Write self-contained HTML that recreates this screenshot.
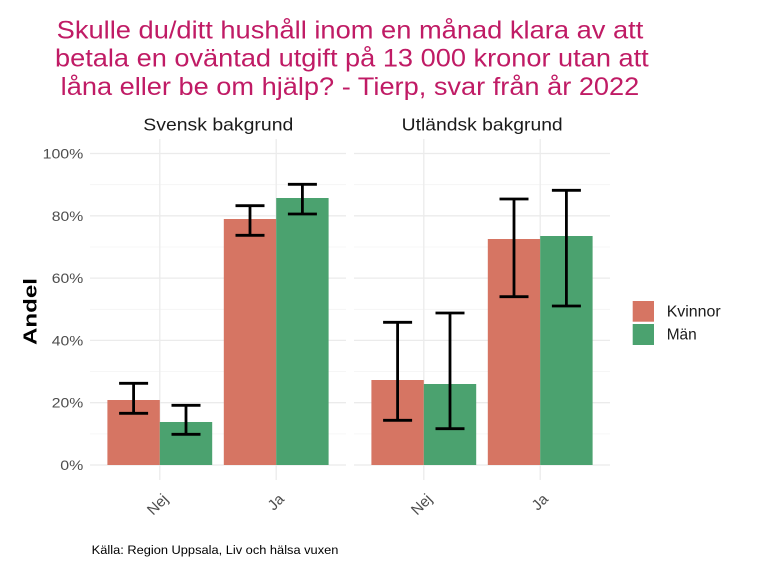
<!DOCTYPE html>
<html>
<head>
<meta charset="utf-8">
<style>
html,body{margin:0;padding:0;background:#fff;}
svg{display:block;}
text{font-family:"Liberation Sans",Arial,sans-serif;}
</style>
</head>
<body>
<svg width="768" height="576" viewBox="0 0 768 576" xmlns="http://www.w3.org/2000/svg">
<rect width="768" height="576" fill="#fff"/>

<!-- Title -->
<g fill="#C01B65" font-size="25">
<text x="56.7" y="38.3" textLength="586.6" lengthAdjust="spacingAndGlyphs">Skulle du/ditt hushåll inom en månad klara av att</text>
<text x="55" y="66.7" textLength="593.7" lengthAdjust="spacingAndGlyphs">betala en oväntad utgift på 13 000 kronor utan att</text>
<text x="60.7" y="95" textLength="578.6" lengthAdjust="spacingAndGlyphs">låna eller be om hjälp? - Tierp, svar från år 2022</text>
</g>

<!-- Strip labels -->
<g fill="#1A1A1A" font-size="17.3">
<text x="143.3" y="130.7" textLength="150" lengthAdjust="spacingAndGlyphs">Svensk bakgrund</text>
<text x="401.7" y="130.7" textLength="161" lengthAdjust="spacingAndGlyphs">Utländsk bakgrund</text>
</g>

<!-- Gridlines -->
<g stroke="#F4F4F4" stroke-width="0.8">
<line x1="90" x2="346" y1="433.9" y2="433.9"/>
<line x1="90" x2="346" y1="371.6" y2="371.6"/>
<line x1="90" x2="346" y1="309.3" y2="309.3"/>
<line x1="90" x2="346" y1="247" y2="247"/>
<line x1="90" x2="346" y1="184.7" y2="184.7"/>
<line x1="354" x2="610" y1="433.9" y2="433.9"/>
<line x1="354" x2="610" y1="371.6" y2="371.6"/>
<line x1="354" x2="610" y1="309.3" y2="309.3"/>
<line x1="354" x2="610" y1="247" y2="247"/>
<line x1="354" x2="610" y1="184.7" y2="184.7"/>
</g>
<g stroke="#EBEBEB" stroke-width="1.3">
<line x1="90" x2="346" y1="465" y2="465"/>
<line x1="90" x2="346" y1="402.7" y2="402.7"/>
<line x1="90" x2="346" y1="340.4" y2="340.4"/>
<line x1="90" x2="346" y1="278.1" y2="278.1"/>
<line x1="90" x2="346" y1="215.8" y2="215.8"/>
<line x1="90" x2="346" y1="153.5" y2="153.5"/>
<line x1="159.8" x2="159.8" y1="139" y2="480"/>
<line x1="276.2" x2="276.2" y1="139" y2="480"/>
<line x1="354" x2="610" y1="465" y2="465"/>
<line x1="354" x2="610" y1="402.7" y2="402.7"/>
<line x1="354" x2="610" y1="340.4" y2="340.4"/>
<line x1="354" x2="610" y1="278.1" y2="278.1"/>
<line x1="354" x2="610" y1="215.8" y2="215.8"/>
<line x1="354" x2="610" y1="153.5" y2="153.5"/>
<line x1="423.8" x2="423.8" y1="139" y2="480"/>
<line x1="540.2" x2="540.2" y1="139" y2="480"/>
</g>

<!-- Bars -->
<g fill="#D67563">
<rect x="107.4" y="400" width="52.4" height="65"/>
<rect x="223.8" y="219" width="52.4" height="246"/>
<rect x="371.4" y="380" width="52.4" height="85"/>
<rect x="487.8" y="239" width="52.4" height="226"/>
</g>
<g fill="#4BA26F">
<rect x="159.8" y="422" width="52.4" height="43"/>
<rect x="276.2" y="198" width="52.4" height="267"/>
<rect x="423.8" y="384" width="52.4" height="81"/>
<rect x="540.2" y="236" width="52.4" height="229"/>
</g>

<!-- Error bars -->
<g stroke="#000" stroke-width="2.8" fill="none">
<path d="M119.1 383.3H148.1M133.6 383.3V413.3M119.1 413.3H148.1"/>
<path d="M171.5 405.3H200.5M186 405.3V434.3M171.5 434.3H200.5"/>
<path d="M235.5 205.7H264.5M250 205.7V235.3M235.5 235.3H264.5"/>
<path d="M287.9 184.3H316.9M302.4 184.3V214M287.9 214H316.9"/>
<path d="M383.1 322.3H412.1M397.6 322.3V420.3M383.1 420.3H412.1"/>
<path d="M435.5 313H464.5M450 313V428.7M435.5 428.7H464.5"/>
<path d="M499.5 199H528.5M514 199V296.7M499.5 296.7H528.5"/>
<path d="M551.9 190.3H580.9M566.4 190.3V306M551.9 306H580.9"/>
</g>

<!-- Y tick labels -->
<g fill="#4D4D4D" font-size="13.5">
<text x="60.3" y="470" textLength="23" lengthAdjust="spacingAndGlyphs">0%</text>
<text x="51.8" y="407.7" textLength="31.5" lengthAdjust="spacingAndGlyphs">20%</text>
<text x="51.8" y="345.4" textLength="31.5" lengthAdjust="spacingAndGlyphs">40%</text>
<text x="51.8" y="283.1" textLength="31.5" lengthAdjust="spacingAndGlyphs">60%</text>
<text x="51.8" y="220.8" textLength="31.5" lengthAdjust="spacingAndGlyphs">80%</text>
<text x="42.6" y="158.5" textLength="40.7" lengthAdjust="spacingAndGlyphs">100%</text>
</g>

<!-- X tick labels -->
<g fill="#4D4D4D" font-size="15" text-anchor="end">
<text transform="translate(169,500) rotate(-45)">Nej</text>
<text transform="translate(285,500) rotate(-45)">Ja</text>
<text transform="translate(433,500) rotate(-45)">Nej</text>
<text transform="translate(549,500) rotate(-45)">Ja</text>
</g>

<!-- Axis title -->
<text transform="translate(36.5,345) rotate(-90)" font-size="18.5" font-weight="bold" fill="#000" textLength="67" lengthAdjust="spacingAndGlyphs">Andel</text>

<!-- Legend -->
<rect x="632.7" y="301" width="21.3" height="20.7" fill="#D67563"/>
<rect x="632.7" y="324" width="21.3" height="21" fill="#4BA26F"/>
<g fill="#1A1A1A" font-size="16">
<text x="666.7" y="316.7" textLength="54" lengthAdjust="spacingAndGlyphs">Kvinnor</text>
<text x="666.7" y="339.3" textLength="30" lengthAdjust="spacingAndGlyphs">Män</text>
</g>

<!-- Caption -->
<text x="91.7" y="554" font-size="12.3" fill="#000" textLength="246.7" lengthAdjust="spacingAndGlyphs">Källa: Region Uppsala, Liv och hälsa vuxen</text>
</svg>
</body>
</html>
